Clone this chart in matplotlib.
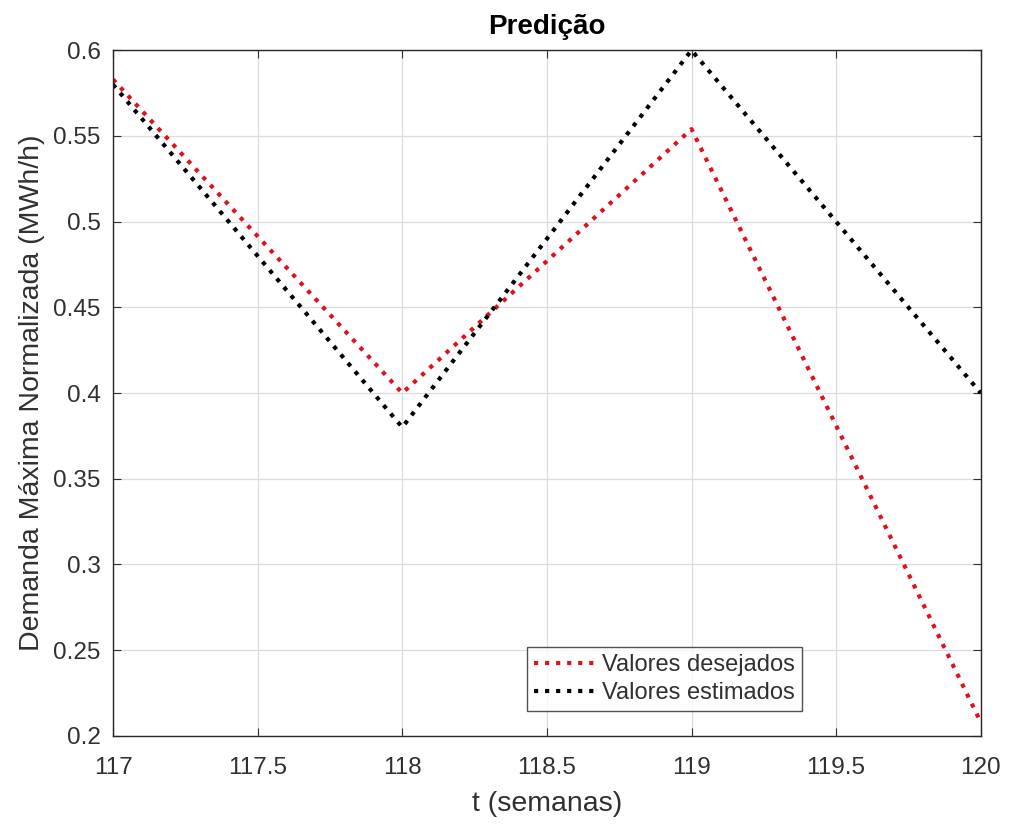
import matplotlib
matplotlib.use('Agg')
import matplotlib.pyplot as plt

plt.rcParams['font.family'] = ['Liberation Sans', 'DejaVu Sans']

# data
semanas = [117, 118, 119, 120]
desejados = [0.583, 0.400, 0.554, 0.208]
estimados = [0.580, 0.380, 0.600, 0.400]

fig = plt.figure(figsize=(10.09, 8.24), dpi=100)
ax = fig.add_axes([0.112, 0.107, 0.860, 0.832])

ax.plot(semanas, desejados, linestyle=':', color='#e0101c', linewidth=3.0,
        label='Valores desejados')
ax.plot(semanas, estimados, linestyle=':', color='black', linewidth=3.0,
        label='Valores estimados')

ax.set_xlim(117, 120)
ax.set_ylim(0.2, 0.6)
ax.set_xticks([117, 117.5, 118, 118.5, 119, 119.5, 120])
ax.set_xticklabels(['117', '117.5', '118', '118.5', '119', '119.5', '120'])
ax.set_yticks([0.2, 0.25, 0.3, 0.35, 0.4, 0.45, 0.5, 0.55, 0.6])
ax.set_yticklabels(['0.2', '0.25', '0.3', '0.35', '0.4', '0.45', '0.5', '0.55', '0.6'])

ax.grid(True, color='#dcdcdc', linewidth=0.9)
ax.set_axisbelow(True)
ax.tick_params(direction='in', top=True, right=True, labelsize=17.5,
               colors='#303030', length=6)
ax.tick_params(axis='x', pad=15)
ax.tick_params(axis='y', pad=9)
for s in ax.spines.values():
    s.set_color('#262626')
    s.set_linewidth(1.0)

ax.set_title('Predição', fontsize=20, fontweight='bold', pad=12)
ax.set_xlabel('t (semanas)', fontsize=20.5, color='#303030', labelpad=9)
ax.set_ylabel('Demanda Máxima Normalizada (MWh/h)', fontsize=20.5,
              color='#303030', labelpad=6)

leg = ax.legend(loc='lower left', bbox_to_anchor=(0.477, 0.036), fontsize=17,
                frameon=True, fancybox=False, edgecolor='#262626',
                handlelength=2.7, handletextpad=0.2, borderpad=0.3,
                labelspacing=0.25, borderaxespad=0)
leg.get_frame().set_linewidth(1.0)
for t in leg.get_texts():
    t.set_color('#303030')

fig.savefig('out.png', dpi=100)
